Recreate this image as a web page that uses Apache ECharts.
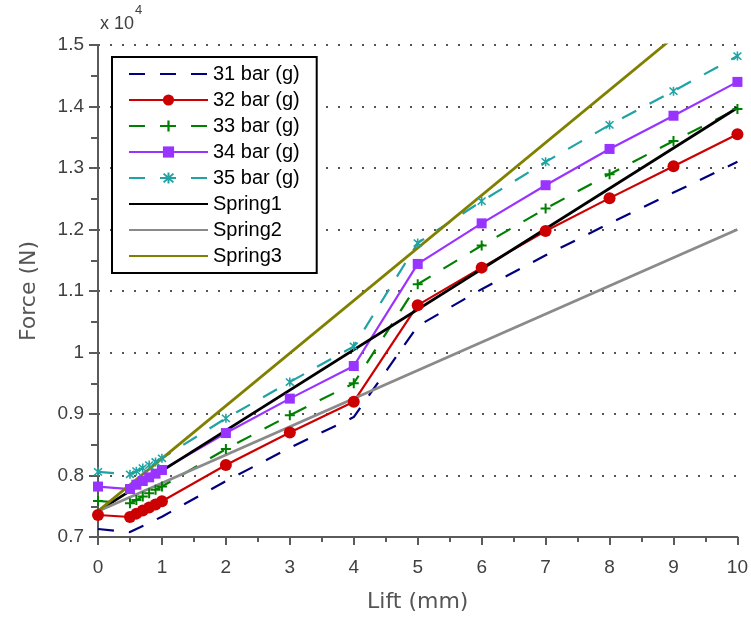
<!DOCTYPE html>
<html>
<head>
<meta charset="utf-8">
<script src="https://cdn.jsdelivr.net/npm/echarts@6.0.0/dist/echarts.min.js"></script>
<style>
html,body{margin:0;padding:0;background:#fff;}
#chart{width:751px;height:619px;}
</style>
</head>
<body>
<div id="chart"></div>
<script>
// ---- data (Force in N, Lift in mm) ----
var liftTest = [0, 0.5, 0.6, 0.7, 0.8, 0.9, 1, 2, 3, 4, 5, 6, 7, 8, 9, 10];
var force31 = [7130, 7080, 7130, 7180, 7230, 7280, 7330, 7910, 8450, 8950, 10430, 11030, 11580, 12100, 12600, 13100];
var force32 = [7358, 7325, 7380, 7430, 7480, 7530, 7580, 8170, 8700, 9200, 10770, 11380, 11975, 12510, 13030, 13550];
var force33 = [7585, 7550, 7600, 7660, 7710, 7770, 7820, 8430, 8980, 9500, 11110, 11740, 12340, 12900, 13440, 13960];
var force34 = [7820, 7780, 7850, 7910, 7970, 8030, 8090, 8690, 9250, 9780, 11440, 12100, 12720, 13310, 13850, 14400];
var force35 = [8060, 8020, 8070, 8120, 8170, 8220, 8280, 8930, 9520, 10100, 11780, 12460, 13100, 13700, 14250, 14820];
var liftSpring = [0, 10];
var spring1 = [7420, 13980];
var spring2 = [7420, 12000];
var spring3 = [7420, 15980];
var seriesNames = ['31 bar (g)', '32 bar (g)', '33 bar (g)', '34 bar (g)', '35 bar (g)', 'Spring1', 'Spring2', 'Spring3'];
var xTicks = [0, 1, 2, 3, 4, 5, 6, 7, 8, 9, 10];
var yTicks = [0.7, 0.8, 0.9, 1, 1.1, 1.2, 1.3, 1.4, 1.5];
var yScaleLabel = 'x 10';
var yScaleExp = '4';

function pairs(xs, ys) { return xs.map(function (x, i) { return [x, ys[i]]; }); }

var plusPath = 'path://M4,0H6V4H10V6H6V10H4V6H0V4H4Z';
var starPath = 'path://M4.2,0H5.8V10H4.2Z M0.43,1.57L1.57,0.43L9.57,8.43L8.43,9.57Z M8.43,0.43L9.57,1.57L1.57,9.57L0.43,8.43Z';
var dash = [16, 15];

var chart = echarts.init(document.getElementById('chart'), null, {renderer: 'canvas'});

function lineSeries(name, data, color, opts) {
  return {
    name: name, type: 'line', data: data,
    lineStyle: {color: color, width: opts.width || 2.2, type: opts.dash ? dash : 'solid'},
    itemStyle: {color: color},
    symbol: opts.symbol || 'none',
    symbolSize: opts.size || 0,
    showSymbol: !!opts.symbol,
    clip: true,
    animation: false,
    emphasis: {disabled: true}
  };
}

var series = [
  lineSeries(seriesNames[0], pairs(liftTest, force31), '#000080', {dash: true}),
  lineSeries(seriesNames[1], pairs(liftTest, force32), '#cc0000', {symbol: 'circle', size: 12}),
  lineSeries(seriesNames[2], pairs(liftTest, force33), '#008000', {dash: true, symbol: plusPath, size: 10}),
  lineSeries(seriesNames[3], pairs(liftTest, force34), '#9933ff', {symbol: 'rect', size: 10}),
  lineSeries(seriesNames[4], pairs(liftTest, force35), '#1fa3a3', {dash: true, symbol: starPath, size: 9}),
  lineSeries(seriesNames[5], pairs(liftSpring, spring1), '#000000', {width: 2.8}),
  lineSeries(seriesNames[6], pairs(liftSpring, spring2), '#8a8a8a', {width: 2.8}),
  lineSeries(seriesNames[7], pairs(liftSpring, spring3), '#808000', {width: 2.8})
];

var legendData = seriesNames.map(function (n, i) {
  var hasSymbol = (i >= 1 && i <= 4);
  return hasSymbol ? {name: n} : {name: n, itemStyle: {opacity: 0}};
});

var option = {
  animation: false,
  backgroundColor: '#fff',
  grid: {left: 98, right: 13, top: 45, bottom: 82, containLabel: false},
  xAxis: {
    type: 'value', min: xTicks[0], max: xTicks[xTicks.length - 1], interval: 1,
    name: 'Lift (mm)', nameLocation: 'middle', nameGap: 54,
    nameTextStyle: {fontFamily: 'DejaVu Sans', fontSize: 22, color: '#555555'},
    axisLine: {show: true, onZero: false, lineStyle: {color: '#5a5a5a', width: 2}},
    axisTick: {show: true, inside: false, length: 8, lineStyle: {color: '#5a5a5a', width: 2}},
    minorTick: {show: true, splitNumber: 2, length: 5, lineStyle: {color: '#5a5a5a', width: 2}},
    axisLabel: {margin: 21, fontFamily: 'Liberation Sans', fontSize: 19, color: '#404040'},
    splitLine: {show: false}
  },
  yAxis: {
    type: 'value', min: yTicks[0] * 10000, max: yTicks[yTicks.length - 1] * 10000, interval: 1000,
    name: 'Force (N)', nameLocation: 'middle', nameGap: 58, nameRotate: 90,
    nameTextStyle: {fontFamily: 'DejaVu Sans', fontSize: 22, color: '#555555'},
    axisLine: {show: true, onZero: false, lineStyle: {color: '#5a5a5a', width: 2}},
    axisTick: {show: true, inside: false, length: 9, lineStyle: {color: '#5a5a5a', width: 2}},
    minorTick: {show: true, splitNumber: 2, length: 7, lineStyle: {color: '#5a5a5a', width: 2}},
    axisLabel: {margin: 14, fontFamily: 'Liberation Sans', fontSize: 19, color: '#404040',
      formatter: function (v) { return String(Math.round(v / 1000) / 10); }},
    splitLine: {show: true, lineStyle: {color: '#555555', width: 2, type: [2, 10]}}
  },
  legend: {
    data: legendData,
    orient: 'vertical', left: 112, top: 57,
    itemWidth: 79, itemHeight: 14, itemGap: 6,
    padding: [7, 17, 7, 16],
    backgroundColor: '#ffffff', borderColor: '#000000', borderWidth: 2, borderRadius: 0,
    textStyle: {fontFamily: 'Liberation Sans', fontSize: 20, color: '#000000'},
    selectedMode: false,
    z: 10
  },
  graphic: [
    {type: 'text', left: 100, top: 15, z: 20,
      style: {text: yScaleLabel, font: '18px "Liberation Sans"', fill: '#404040'}},
    {type: 'text', left: 135, top: 4, z: 20,
      style: {text: yScaleExp, font: '13px "Liberation Sans"', fill: '#404040'}}
  ],
  series: series
};
chart.setOption(option);
</script>
</body>
</html>
